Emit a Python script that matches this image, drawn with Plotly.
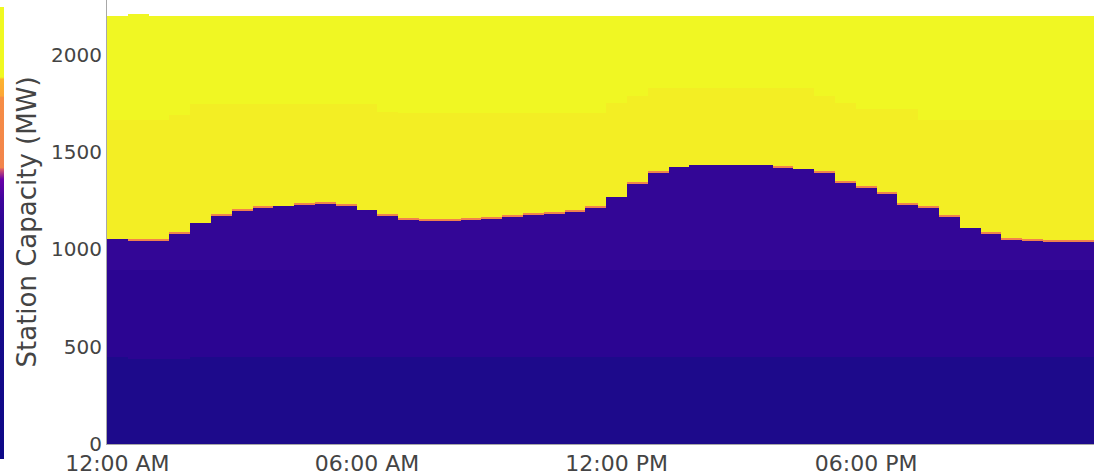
import pandas as pd
import plotly.graph_objects as go

# Half-hourly trading intervals over one day
times = pd.date_range("2023-01-01 00:00", periods=48, freq="30min")

# Cumulative capacity levels (MW), bottom to top
base_top = [446, 436, 436, 436] + [446] * 44          # cheapest units
mid_top = [894] * 48                                   # second block
purple_top = [1052, 1045, 1045, 1083, 1137, 1175, 1202, 1214, 1225, 1233,
              1237, 1227, 1202, 1172, 1156, 1149, 1149, 1156, 1161, 1169,
              1177, 1186, 1197, 1214, 1271, 1340, 1394, 1422, 1432, 1432,
              1432, 1432, 1422, 1412, 1394, 1346, 1316, 1285, 1233, 1216,
              1168, 1108, 1083, 1053, 1047, 1043, 1043, 1043]
# thin intermediate-price slice sitting on top of the purple block (MW)
peaker_mw = [0, 7, 7, 7, 0, 6, 6, 6, 0, 6,
             6, 6, 0, 7, 6, 6, 6, 6, 6, 6,
             6, 6, 6, 7, 0, 7, 7, 0, 0, 0,
             0, 0, 7, 0, 6, 6, 6, 6, 7, 7,
             7, 0, 7, 7, 7, 7, 7, 7]
band_top = [1665, 1665, 1665, 1691, 1745, 1745, 1745, 1745, 1745, 1745,
            1745, 1745, 1745, 1708, 1701, 1701, 1701, 1701, 1701, 1701,
            1701, 1701, 1701, 1701, 1752, 1788, 1829, 1829, 1829, 1829,
            1829, 1829, 1829, 1829, 1788, 1752, 1720, 1720, 1720, 1665,
            1665, 1665, 1665, 1665, 1665, 1665, 1665, 1665]
total_top = [2199, 2210] + [2199] * 46

# price colour scale used for the colour bar
price_scale = [[0.0, "#0d0887"], [0.45, "#1a0b8c"], [0.52, "#2a0693"],
               [0.574, "#3f049c"], [0.619, "#6a00a8"], [0.64, "#d5566c"],
               [0.645, "#f2844b"], [0.80, "#f68d45"], [0.803, "#fca636"],
               [0.84, "#fdb32f"], [0.845, "#f0f921"], [1.0, "#f0f921"]]

half_hour_ms = 30 * 60 * 1000

fig = go.Figure()
layers = [
    (total_top, "#f0f723"),
    (band_top, "#f3ee24"),
    (purple_top, "#330696"),
    (mid_top, "#2b0592"),
    (base_top, "#1d0a8b"),
]
for vals, col in layers:
    fig.add_trace(go.Bar(x=times, y=vals, width=half_hour_ms,
                         marker=dict(color=col, line=dict(width=0)),
                         showlegend=False, hoverinfo="skip"))
fig.add_trace(go.Bar(x=times, y=peaker_mw, base=purple_top, width=half_hour_ms,
                     marker=dict(color="#f0824d", line=dict(width=0)),
                     showlegend=False, hoverinfo="skip"))

# colour bar (price scale), mostly outside the page on the left
fig.add_trace(go.Scatter(
    x=[None], y=[None], mode="markers", showlegend=False, hoverinfo="skip",
    marker=dict(color=[0.5], colorscale=price_scale, cmin=0, cmax=1, showscale=True,
                colorbar=dict(x=-107 / 987, xanchor="left", xpad=0,
                              thickness=4, outlinewidth=0, showticklabels=False,
                              ticks="", y=-15 / 444, yanchor="bottom",
                              len=452 / 444, lenmode="fraction", ypad=0))))

font = "DejaVu Sans, Verdana, sans-serif"
fig.update_layout(
    width=1094, height=476,
    margin=dict(l=107, r=0, t=0, b=32, autoexpand=False),
    barmode="overlay", bargap=0,
    plot_bgcolor="white", paper_bgcolor="white",
    font=dict(family=font, size=20, color="#444"),
    xaxis=dict(type="date", range=["2022-12-31 23:45:00", "2023-01-01 23:28:36"],
               tickformat="%I:%M %p", dtick=6 * 3600 * 1000, tick0="2023-01-01 00:00",
               showgrid=False, zeroline=False, showline=True, linecolor="#a8a8a8",
               linewidth=1, ticks="", tickfont=dict(size=22)),
    yaxis=dict(range=[0, 2282], tickvals=[0, 500, 1000, 1500, 2000],
               showgrid=False, zeroline=False, showline=True, linecolor="#a8a8a8",
               linewidth=1, ticks="", tickfont=dict(size=20),
               title=dict(text="Station Capacity (MW)", font=dict(size=26), standoff=6)),
)

fig.write_html("out.html", config={"displayModeBar": False},
               post_script="document.body.style.margin='0';document.body.style.overflow='hidden';")
